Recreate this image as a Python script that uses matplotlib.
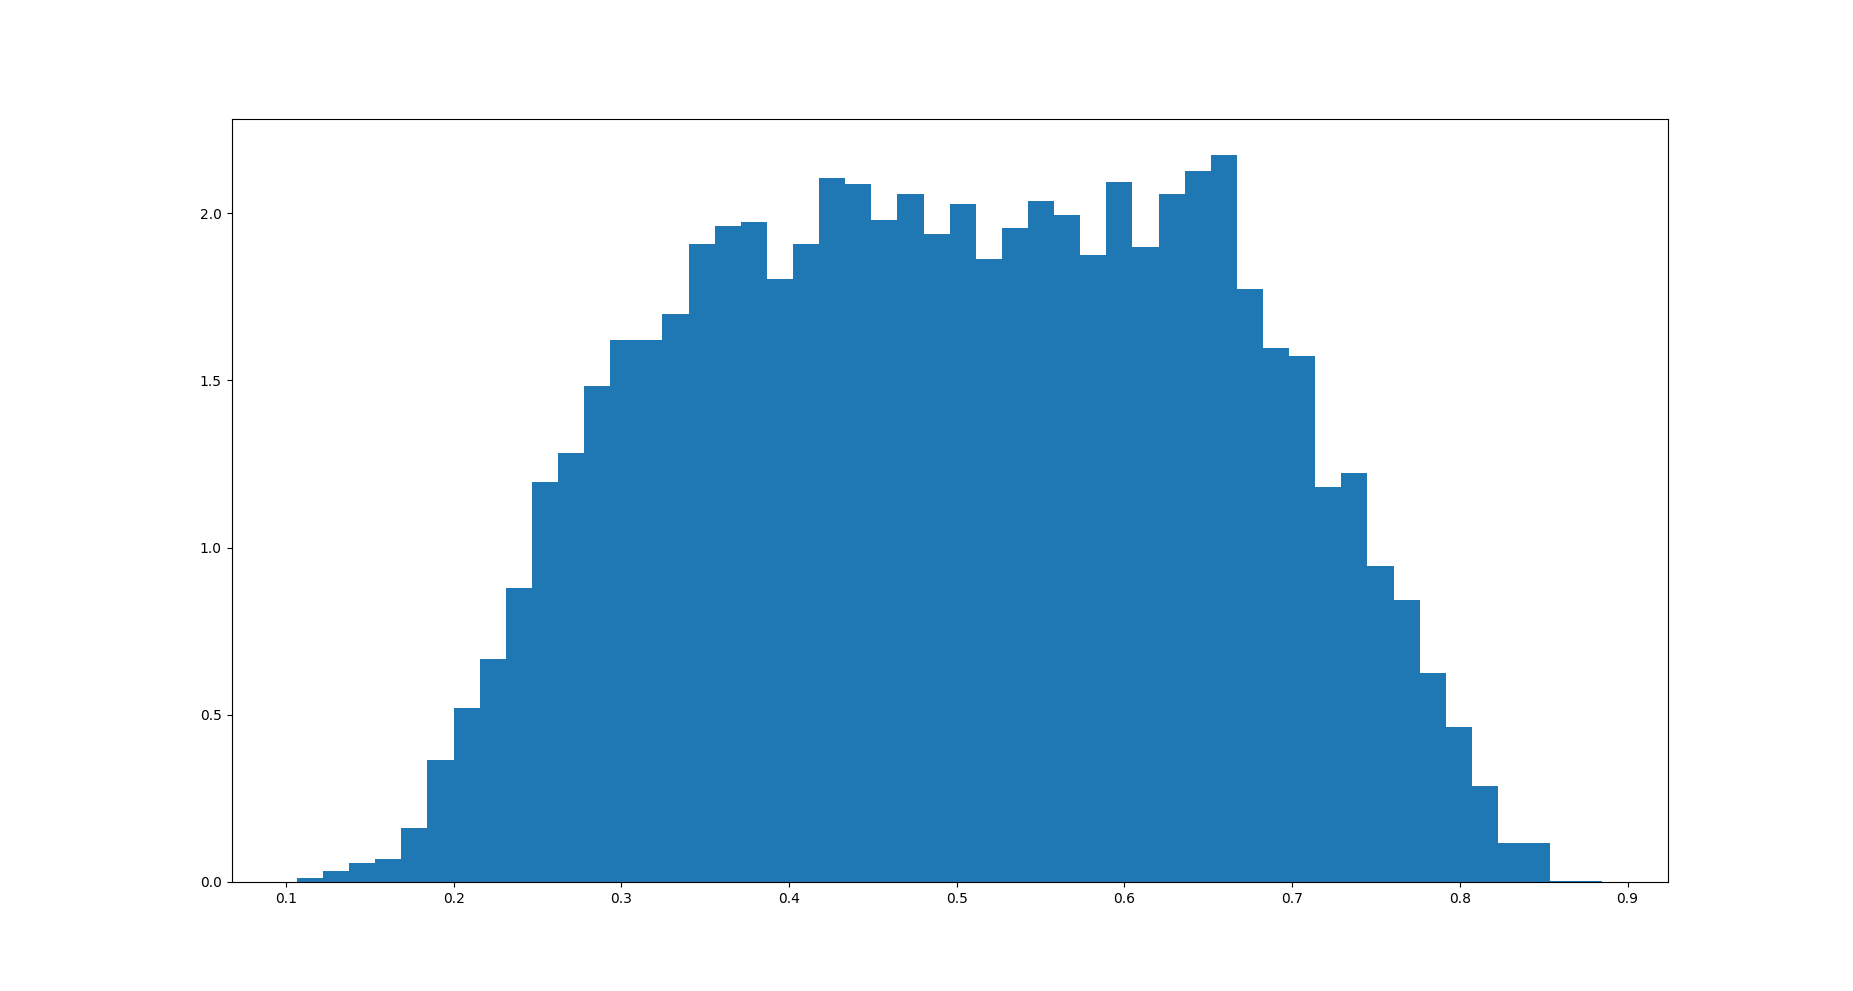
import numpy as np
import matplotlib
matplotlib.use('Agg')
import matplotlib.pyplot as plt

# bin range and heights (density)
x_min = 0.1065
x_max = 0.885
n_bins = 50
heights = [0.011, 0.034, 0.058, 0.070, 0.160, 0.366, 0.519, 0.668, 0.880, 1.196,
           1.284, 1.484, 1.620, 1.620, 1.697, 1.909, 1.960, 1.972, 1.804, 1.909,
           2.106, 2.088, 1.978, 2.056, 1.938, 2.028, 1.864, 1.954, 2.037, 1.993,
           1.876, 2.094, 1.900, 2.056, 2.127, 2.173, 1.772, 1.598, 1.574, 1.182,
           1.222, 0.944, 0.842, 0.624, 0.462, 0.288, 0.116, 0.116, 0.004, 0.004]

edges = np.linspace(x_min, x_max, n_bins + 1)

fig = plt.figure(figsize=(18.53, 9.91), dpi=100)
ax = fig.add_subplot(111)
ax.hist(edges[:-1], bins=edges, weights=heights)
plt.savefig("out.png", dpi=100)
plt.close()
